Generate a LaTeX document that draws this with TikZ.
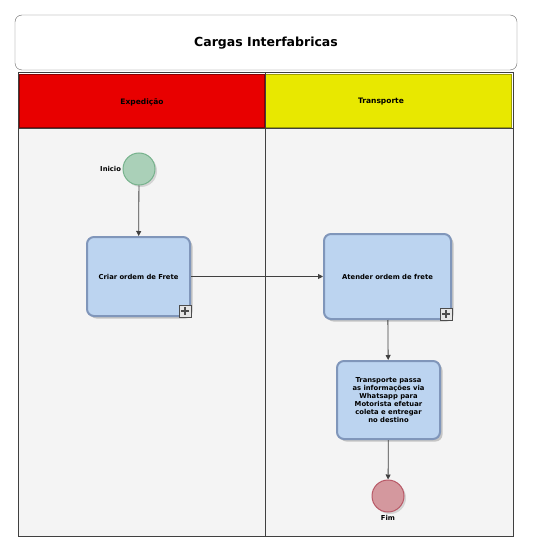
\documentclass[tikz,border=0pt]{standalone}
\usepackage{fontspec}
\setmainfont{DejaVu Sans}
\usetikzlibrary{positioning,shadows,arrows.meta}
\definecolor{taskfill}{RGB}{188,212,240}
\definecolor{taskline}{RGB}{128,150,186}
\definecolor{startfill}{RGB}{170,208,184}
\definecolor{startline}{RGB}{118,178,140}
\definecolor{endfill}{RGB}{212,152,158}
\definecolor{endline}{RGB}{184,88,102}
\definecolor{lanefill}{RGB}{244,244,244}
\definecolor{expred}{RGB}{232,0,0}
\definecolor{expline}{RGB}{140,0,0}
\definecolor{trayel}{RGB}{232,232,0}
\definecolor{trayline}{RGB}{160,160,0}
\tikzset{
 task/.style={draw=taskline,line width=2pt,fill=taskfill,rounded corners=7pt,
  font=\bfseries\fontsize{6.8}{8.1}\selectfont,align=center,inner sep=2pt,
  drop shadow={shadow xshift=2.5pt,shadow yshift=-2.5pt,fill=gray!55,opacity=.8}},
 event/.style={circle,minimum size=32pt,inner sep=0pt,line width=1pt,
  drop shadow={shadow xshift=2pt,shadow yshift=-2pt,fill=gray!40,opacity=.8}},
 plusbox/.style={draw=black!70,fill=gray!20,minimum size=12pt,inner sep=0pt,anchor=south east,
  path picture={\draw[line width=1.8pt] ([yshift=-2pt]path picture bounding box.north)--([yshift=2pt]path picture bounding box.south)
   ([xshift=2pt]path picture bounding box.west)--([xshift=-2pt]path picture bounding box.east);}},
 flow/.style={-{Triangle[length=5pt,width=5pt]},draw=black!75,line width=.8pt},
 small/.style={font=\bfseries\fontsize{6.8}{8}\selectfont},
 lanehead/.style={font=\bfseries\fontsize{7.5}{9}\selectfont},
}
\begin{document}
\begin{tikzpicture}[x=1pt,y=-1pt]
\useasboundingbox (0,0) rectangle (540,553);
% title
\draw[black!60,rounded corners=7pt](15,15)rectangle(517,70);
\node[font=\bfseries\fontsize{12.5}{14}\selectfont](title)at(266,43){Cargas Interfabricas};
% pool and lanes
\fill[lanefill](18,129)rectangle(513,536);
\draw[expline,line width=1.5pt,fill=expred](19.5,74.5)rectangle(264.5,127.5);
\draw[trayline,line width=1.5pt,fill=trayel](265.5,74.5)rectangle(511.5,127.5);
\draw[black!75,line width=1pt](18,73)rectangle(513,536);
\draw[black!75,line width=1pt](18,129)--(513,129);
\draw[black!75](265,73)--(265,536);
\node[lanehead](exp)at(142,102){Expedição};
\node[lanehead](tra)at(381,102){Transporte};
% events and tasks
\node[event,draw=startline,fill=startfill,label={[small,xshift=2pt]left:Inicio}](inicio)at(139,169){};
\node[task,minimum width=103pt,minimum height=79pt](criar)at(138.5,276.5){Criar ordem de Frete};
\node[plusbox](p1)at(criar.south east){};
\node[task,minimum width=127pt,minimum height=85pt](atender)at(387.5,276.5){Atender ordem de frete};
\node[plusbox](p2)at(atender.south east){};
\node[task,minimum width=103pt,minimum height=78pt](passa)at(388.5,400){Transporte passa\\as informações via\\Whatsapp para\\Motorista efetuar\\coleta e entregar\\no destino};
\node[event,draw=endline,fill=endfill,label={[small,yshift=1pt]below:Fim}](fim)at(388,496){};
% flows
\draw[flow](inicio)--(criar);
\draw[flow](criar)--(atender);
\draw[flow](atender)--(passa);
\draw[flow](passa)--(fim);
\end{tikzpicture}
\end{document}
